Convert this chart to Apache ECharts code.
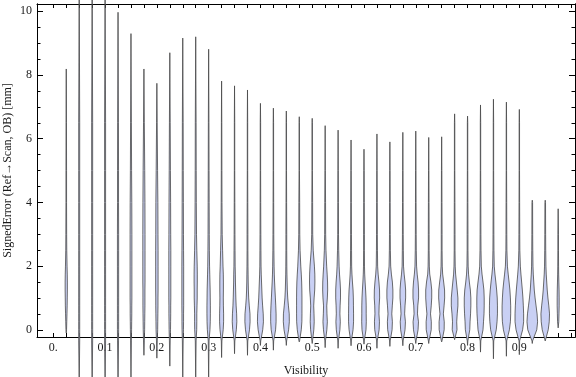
<!DOCTYPE html>
<html>
<head>
<meta charset="utf-8">
<script src="https://cdn.jsdelivr.net/npm/echarts@6/dist/echarts.min.js"></script>
<style>
  html, body { margin: 0; padding: 0; background: #fff; }
  #charts { width: 576px; height: 377px; }
</style>
</head>
<body>
<div id="charts"></div>
<script>
// visibility bins, one violin each
let visibility = [0.025, 0.05, 0.075, 0.1, 0.125, 0.15, 0.175, 0.2, 0.225, 0.25,
  0.275, 0.3, 0.325, 0.35, 0.375, 0.4, 0.425, 0.45, 0.475, 0.5,
  0.525, 0.55, 0.575, 0.6, 0.625, 0.65, 0.675, 0.7, 0.725, 0.75,
  0.775, 0.8, 0.825, 0.85, 0.875, 0.9, 0.925, 0.95, 0.975]
let errMin = [-0.1, -1.8, -1.8, -1.8, -1.8, -1.6, -0.8, -0.89, -1.14, -1.6,
  -1.6, -1.6, -0.87, -0.75, -0.8, -0.49, -0.64, -0.49, -0.38, -0.43,
  -0.56, -0.58, -0.5, -0.45, -0.58, -0.52, -0.5, -0.43, -0.43, -0.38,
  -0.31, -0.49, -0.7, -0.91, -0.83, -0.78, -0.43, -0.35, 0.06]
let errMax = [8.19, 11, 11, 11, 9.97, 9.3, 8.19, 7.74, 8.7, 9.16,
  9.2, 8.81, 7.81, 7.66, 7.53, 7.11, 6.96, 6.87, 6.69, 6.64,
  6.41, 6.27, 5.96, 5.67, 6.15, 5.9, 6.2, 6.24, 6.04, 6.06,
  6.78, 6.71, 7.06, 7.24, 7.15, 6.92, 4.07, 4.07, 3.8]
// estimated density (half width) of each violin at these error levels
let densityLevels = [-0.35, 0, 0.25, 0.5, 0.75, 1, 1.25, 1.5, 1.75, 2, 2.5, 3, 4, 5, 6.5]
let density = [
  [0, 0.3, 0.5, 0.7, 0.9, 1.0, 1.1, 1.1, 1.0, 0.8, 0.5, 0.4, 0.3, 0.3, 0.2],
  [0.5, 0.5, 0.5, 0.5, 0.5, 0.5, 0.5, 0.5, 0.5, 0.5, 0.5, 0.5, 0.5, 0.5, 0.5],
  [0.5, 0.5, 0.5, 0.5, 0.5, 0.5, 0.5, 0.5, 0.5, 0.5, 0.5, 0.5, 0.5, 0.5, 0.5],
  [0.5, 0.5, 0.5, 0.5, 0.5, 0.5, 0.5, 0.5, 0.5, 0.5, 0.5, 0.5, 0.5, 0.5, 0.5],
  [0.5, 0.6, 0.6, 0.6, 0.6, 0.6, 0.6, 0.6, 0.6, 0.6, 0.6, 0.6, 0.5, 0.5, 0.4],
  [0.4, 0.6, 0.7, 0.8, 0.8, 0.9, 0.9, 0.9, 0.9, 0.9, 0.9, 0.9, 0.8, 0.6, 0.4],
  [0.4, 0.7, 0.8, 0.9, 1.0, 1.0, 1.0, 1.1, 1.1, 1.1, 1.1, 1.1, 1.0, 0.8, 0.4],
  [0.4, 0.8, 0.9, 1.0, 1.1, 1.1, 1.2, 1.2, 1.2, 1.2, 1.2, 1.1, 1.0, 0.7, 0.3],
  [0.4, 0.7, 0.8, 0.9, 0.9, 1.0, 1.0, 1.0, 1.0, 1.0, 1.0, 0.9, 0.8, 0.6, 0.4],
  [0.4, 0.7, 0.8, 0.8, 0.9, 0.9, 0.9, 0.9, 0.9, 0.9, 0.8, 0.7, 0.6, 0.5, 0.4],
  [0.4, 1.0, 1.1, 1.1, 1.3, 1.5, 1.5, 1.6, 1.6, 1.5, 1.1, 0.8, 0.6, 0.5, 0.4],
  [0.4, 1.3, 1.6, 1.7, 1.7, 1.6, 1.5, 1.3, 1.1, 0.9, 0.7, 0.6, 0.5, 0.4, 0.3],
  [0.3, 1.6, 2.0, 2.0, 1.8, 1.7, 1.8, 1.8, 1.7, 1.4, 1.0, 0.6, 0.4, 0.3, 0.2],
  [0.3, 1.8, 2.3, 2.1, 1.6, 1.3, 1.1, 0.9, 0.8, 0.6, 0.5, 0.4, 0.3, 0.2, 0.2],
  [0.3, 2.0, 2.6, 2.5, 1.8, 1.2, 0.9, 0.7, 0.6, 0.5, 0.4, 0.4, 0.3, 0.2, 0.2],
  [0.3, 2.3, 3.0, 2.8, 2.2, 1.7, 1.4, 1.1, 0.8, 0.6, 0.5, 0.4, 0.3, 0.2, 0.2],
  [0.3, 2.2, 2.7, 2.7, 2.4, 2.0, 1.6, 1.2, 0.9, 0.7, 0.5, 0.4, 0.3, 0.2, 0.2],
  [0.3, 2.3, 3.0, 2.9, 2.1, 1.4, 1.0, 0.8, 0.6, 0.5, 0.4, 0.4, 0.3, 0.2, 0.2],
  [0.3, 2.0, 2.6, 2.7, 2.7, 2.7, 2.6, 2.4, 2.0, 1.5, 0.8, 0.5, 0.4, 0.2, 0.2],
  [0.3, 1.6, 2.0, 1.8, 1.5, 1.9, 2.5, 2.7, 2.6, 2.2, 1.0, 0.5, 0.4, 0.2, 0.2],
  [0.3, 1.7, 2.2, 1.8, 1.6, 2.2, 2.5, 2.4, 2.0, 1.5, 0.8, 0.5, 0.4, 0.2, 0.2],
  [0.3, 1.8, 2.2, 1.8, 2.0, 2.4, 2.4, 2.0, 1.4, 1.0, 0.6, 0.4, 0.3, 0.2, 0.2],
  [0.3, 2.0, 2.5, 2.5, 2.4, 2.3, 2.0, 1.4, 0.9, 0.6, 0.5, 0.4, 0.3, 0.2, 0.2],
  [0.3, 2.0, 2.3, 2.2, 2.2, 2.0, 1.6, 1.1, 0.7, 0.5, 0.4, 0.4, 0.3, 0.2, 0.2],
  [0.3, 2.2, 2.5, 2.0, 2.2, 2.7, 2.6, 2.0, 1.2, 0.7, 0.5, 0.4, 0.3, 0.2, 0.2],
  [0.3, 2.2, 2.5, 1.9, 2.4, 3.0, 3.0, 2.5, 1.5, 0.8, 0.5, 0.4, 0.3, 0.2, 0.2],
  [0.3, 2.2, 2.6, 1.8, 2.2, 2.8, 2.8, 2.2, 1.3, 0.7, 0.5, 0.4, 0.3, 0.2, 0.2],
  [0.3, 2.3, 2.7, 1.7, 2.0, 2.8, 2.8, 2.3, 1.4, 0.8, 0.5, 0.4, 0.3, 0.2, 0.2],
  [0.3, 2.5, 2.6, 1.8, 2.5, 3.0, 3.0, 2.2, 1.0, 0.6, 0.4, 0.4, 0.3, 0.2, 0.2],
  [0.3, 2.5, 2.6, 1.7, 2.4, 3.0, 2.9, 2.0, 1.0, 0.6, 0.4, 0.4, 0.3, 0.2, 0.2],
  [0.3, 2.4, 2.1, 2.6, 3.3, 3.3, 2.6, 1.8, 1.0, 0.6, 0.4, 0.4, 0.3, 0.2, 0.2],
  [0.3, 2.2, 2.5, 3.0, 3.3, 3.3, 2.8, 1.8, 1.0, 0.6, 0.4, 0.4, 0.3, 0.2, 0.2],
  [0.3, 2.5, 3.0, 3.5, 3.7, 3.7, 3.4, 2.5, 1.5, 0.8, 0.5, 0.4, 0.3, 0.2, 0.2],
  [0.3, 2.8, 3.6, 4.0, 4.0, 3.8, 3.2, 2.4, 1.5, 0.8, 0.5, 0.4, 0.3, 0.2, 0.2],
  [0.3, 3.0, 4.0, 4.3, 4.3, 4.0, 3.5, 2.7, 1.8, 1.0, 0.5, 0.4, 0.3, 0.2, 0.2],
  [0.3, 3.3, 4.3, 4.3, 4.0, 3.6, 3.0, 2.3, 1.6, 1.0, 0.5, 0.4, 0.3, 0.2, 0.2],
  [0.3, 4.5, 5.3, 4.8, 3.8, 2.8, 2.0, 1.5, 1.0, 0.7, 0.5, 0.4, 0.3, 0.2, 0.2],
  [0.3, 3.0, 4.0, 4.3, 3.6, 2.7, 2.0, 1.5, 1.0, 0.7, 0.5, 0.4, 0.3, 0.2, 0.2],
  [0, 0, 0.6, 0.8, 1.0, 1.0, 0.9, 0.7, 0.5, 0.4, 0.3, 0.3, 0, 0, 0]
]
let xTickLabels = [0, 0.1, 0.2, 0.3, 0.4, 0.5, 0.6, 0.7, 0.8, 0.9]
let xMinorTicks = [0].concat(visibility).concat([1])
let yTickLabels = [0, 2, 4, 6, 8, 10]
let yMinorTicks = [0.5, 1, 1.5, 2.5, 3, 3.5, 4.5, 5, 5.5, 6.5, 7, 7.5, 8.5, 9, 9.5]

const X_MIN = -0.0315, X_MAX = 1.0075, Y_MIN = -0.226, Y_MAX = 10.23
const WIDTH_SCALE = 1 // px per density unit
const FONT = '"Liberation Serif", "DejaVu Serif", serif'

let seriesData = visibility.map((v, i) => [v, errMin[i], errMax[i]])

function violin(params, api) {
  let i = params.dataIndex
  let x = api.value(0), lo = api.value(1), hi = api.value(2)
  let prof = [[lo, 0]]
  densityLevels.forEach((lv, j) => {
    if (lv > lo && lv < hi) prof.push([lv, density[i][j]])
  })
  prof.push([hi, 0])
  let left = [], right = []
  prof.forEach(p => {
    let c = api.coord([x, p[0]])
    let w = p[1] * WIDTH_SCALE
    left.push([c[0] - w, c[1]])
    right.unshift([c[0] + w, c[1]])
  })
  return {
    type: 'polygon',
    shape: { points: left.concat(right) },
    style: { fill: '#c9d0f4', stroke: '#474747', lineWidth: 0.8, lineJoin: 'round' }
  }
}

function xAxisCfg(pos, labels) {
  return {
    type: 'value', position: pos, min: X_MIN, max: X_MAX,
    axisLine: { show: true, onZero: false, lineStyle: { color: '#000', width: 1 } },
    axisTick: { show: true, inside: true, length: 4, customValues: xMinorTicks, lineStyle: { color: '#000' } },
    axisLabel: {
      show: labels, customValues: xTickLabels, margin: 5,
      color: '#1a1a1a', fontFamily: FONT, fontSize: 12,
      formatter: v => v === 0 ? '0.' : v.toFixed(1)
    },
    splitLine: { show: false },
    name: labels ? 'Visibility' : '',
    nameLocation: 'middle', nameGap: 28,
    nameTextStyle: { color: '#1a1a1a', fontFamily: FONT, fontSize: 12 }
  }
}

function yAxisCfg(pos, ticks, len, labels) {
  return {
    type: 'value', position: pos, min: Y_MIN, max: Y_MAX,
    axisLine: { show: true, onZero: false, lineStyle: { color: '#000', width: 1 } },
    axisTick: { show: true, inside: true, length: len, customValues: ticks, lineStyle: { color: '#000' } },
    axisLabel: {
      show: labels, customValues: ticks, margin: 5,
      color: '#1a1a1a', fontFamily: FONT, fontSize: 12
    },
    splitLine: { show: false },
    name: labels ? 'SignedError (Ref\u2192Scan, OB) [mm]' : '',
    nameLocation: 'middle', nameGap: 23, nameMoveOverlap: false,
    nameTextStyle: { color: '#1a1a1a', fontFamily: FONT, fontSize: 12 }
  }
}

let option = {
  animation: false,
  backgroundColor: '#fff',
  grid: { left: 37, right: 1, top: 4, bottom: 40, containLabel: false, outerBoundsMode: 'none' },
  xAxis: [xAxisCfg('bottom', true), xAxisCfg('top', false)],
  yAxis: [
    yAxisCfg('left', yTickLabels, 6, true),
    yAxisCfg('left', yMinorTicks, 3.5, false),
    yAxisCfg('right', yTickLabels, 6, false),
    yAxisCfg('right', yMinorTicks, 3.5, false)
  ],
  series: [
    {
      type: 'custom',
      xAxisIndex: 0,
      yAxisIndex: 0,
      clip: false,
      renderItem: violin,
      data: seriesData
    }
  ]
}

let chartsInstance = echarts.init(document.getElementById('charts'))
chartsInstance.setOption(option)
</script>
</body>
</html>
